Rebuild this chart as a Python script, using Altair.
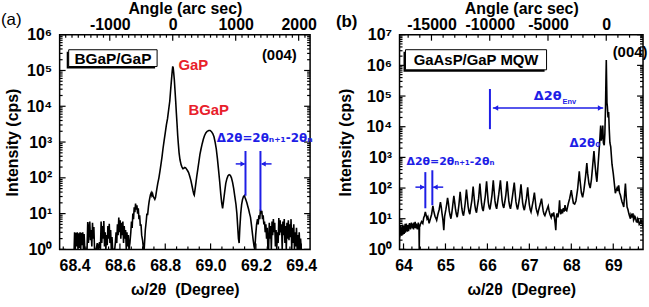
import altair as alt
import pandas as pd

FONT = "Liberation Sans"
GREEK = "DejaVu Sans"
RED = "#e8202a"
BLUE = "#1e1ee6"
MAJ, MIN = 6, 3  # tick lengths (px), drawn inward

# ---------------- (a) BGaP/GaP, (004) omega/2theta scan ----------------
a_deg = [
    68.398, 68.400, 68.403, 68.406, 68.409, 68.412, 68.415, 68.418, 68.421, 68.424,
    68.427, 68.430, 68.433, 68.436, 68.439, 68.442, 68.445, 68.450, 68.455, 68.458,
    68.461, 68.464, 68.467, 68.470, 68.473, 68.476, 68.479, 68.482, 68.485, 68.488,
    68.495, 68.500, 68.505, 68.510, 68.514, 68.517, 68.520, 68.523, 68.526, 68.529,
    68.532, 68.535, 68.538, 68.541, 68.544, 68.547, 68.550, 68.553, 68.556, 68.559,
    68.562, 68.565, 68.568, 68.572, 68.577, 68.580, 68.583, 68.586, 68.589, 68.592,
    68.595, 68.598, 68.601, 68.604, 68.607, 68.610, 68.613, 68.616, 68.619, 68.622,
    68.625, 68.628, 68.631, 68.634, 68.637, 68.640, 68.644, 68.648, 68.651, 68.654,
    68.657, 68.660, 68.663, 68.666, 68.669, 68.672, 68.675, 68.678, 68.681, 68.684,
    68.687, 68.690, 68.693, 68.696, 68.700, 68.704, 68.707, 68.712, 68.716, 68.719,
    68.722, 68.726, 68.729, 68.732, 68.735, 68.738, 68.741, 68.744, 68.747, 68.750,
    68.754, 68.757, 68.762, 68.767, 68.772, 68.777, 68.782, 68.786, 68.790, 68.795,
    68.800, 68.805, 68.810, 68.815, 68.820, 68.824, 68.828, 68.831, 68.833, 68.835,
    68.837, 68.840, 68.843, 68.846, 68.849, 68.852, 68.855, 68.858, 68.861, 68.865,
    68.870, 68.874, 68.878, 68.882, 68.886, 68.890, 68.894, 68.898, 68.903, 68.908,
    68.913, 68.918, 68.922, 68.926, 68.928, 68.931, 68.935, 68.939, 68.944, 68.949,
    68.953, 68.958, 68.963, 68.968, 68.973, 68.979, 68.985, 68.992, 68.998, 69.004,
    69.010, 69.015, 69.020, 69.025, 69.030, 69.035, 69.040, 69.045, 69.049, 69.053,
    69.057, 69.062, 69.067, 69.072, 69.077, 69.082, 69.087, 69.092, 69.097, 69.102,
    69.107, 69.112, 69.116, 69.120, 69.123, 69.126, 69.129, 69.133, 69.137, 69.141,
    69.145, 69.149, 69.152, 69.156, 69.160, 69.164, 69.168, 69.172, 69.176, 69.180,
    69.184, 69.188, 69.192, 69.195, 69.199, 69.203, 69.207, 69.210, 69.213, 69.217,
    69.220, 69.223, 69.226, 69.229, 69.232, 69.235, 69.238, 69.241, 69.244, 69.247,
    69.250, 69.253, 69.256, 69.259, 69.262, 69.265, 69.268, 69.271, 69.274, 69.277,
    69.280, 69.283, 69.286, 69.289, 69.292, 69.295, 69.298, 69.301, 69.304, 69.307,
    69.310, 69.313, 69.316, 69.319, 69.322, 69.325, 69.328, 69.331, 69.334, 69.337,
    69.340, 69.343, 69.346, 69.349, 69.352, 69.355, 69.358, 69.361, 69.364, 69.367,
    69.370, 69.373, 69.376, 69.379, 69.382, 69.385, 69.388, 69.391, 69.394, 69.397,
    69.400,
]
a_cps = [
    1.0, 3.0, 1.0, 2.9, 1.2, 3.0, 1.0, 2.8, 1.1, 3.0,
    1.0, 2.9, 1.3, 3.0, 1.0, 2.7, 1.0, 1.0, 1.0, 5.8,
    1.5, 4.0, 6.0, 1.8, 3.5, 1.2, 5.5, 2.0, 4.2, 1.0,
    1.0, 1.5, 1.0, 1.6, 1.0, 6.0, 1.5, 4.5, 2.0, 6.2,
    1.2, 3.0, 1.0, 2.5, 1.3, 4.5, 2.0, 5.2, 1.5, 3.5,
    1.0, 2.2, 1.0, 1.0, 1.0, 1.6, 3.0, 1.5, 5.0, 2.5,
    7.8, 3.0, 6.5, 2.0, 5.5, 2.5, 6.0, 1.5, 4.5, 2.0,
    3.5, 1.0, 3.0, 1.2, 2.5, 1.0, 1.5, 3.0, 6.0, 4.0,
    10, 7, 15, 11, 19, 13, 17, 10, 14, 7,
    9, 4.5, 5, 2.5, 1.8, 1.0, 1.0, 3.5, 6, 10,
    9, 16, 22, 28, 34, 38, 32, 36, 30, 28,
    25, 28, 45, 70, 100, 160, 260, 400, 650, 1100,
    1800, 3000, 4500, 8000, 14000, 30000, 60000, 100000, 130000, 120000,
    90000, 55000, 28000, 14000, 6500, 3200, 1500, 850, 500, 320,
    230, 200, 180, 185, 195, 190, 175, 160, 140, 110,
    85, 60, 45, 35, 33, 45, 70, 110, 180, 300,
    450, 650, 900, 1200, 1500, 1800, 2000, 2100, 2100, 1950,
    1700, 1400, 1000, 650, 350, 170, 80, 35, 20, 14,
    22, 40, 70, 95, 115, 122, 118, 100, 75, 50,
    30, 18, 10, 4, 2, 1.5, 4, 10, 18, 25,
    30, 32, 28, 24, 20, 16, 13, 10, 8, 5,
    3, 1.8, 1.2, 1.0, 2.5, 5, 7, 5, 9, 7,
    13, 10, 12, 7, 9, 5, 6, 3, 5, 2,
    4, 1, 1.0, 5.5, 2.0, 4.5, 1.0, 6.0, 2.5, 7.0,
    3.0, 5.5, 1.2, 3.5, 1.0, 3.0, 1.5, 7.5, 2.5, 6.5,
    3.0, 5.0, 1.0, 6.0, 2.5, 7.0, 1.5, 4.5, 1.0, 5.5,
    2.0, 6.5, 1.8, 5.0, 2.2, 7.0, 1.0, 4.0, 1.5, 5.0,
    1.0, 3.0, 1.2, 4.0, 1.0, 2.5, 1.0, 3.0, 1.0, 2.0,
    1.0,
]

# ---------------- (b) GaAsP/GaP MQW, (004) omega/2theta scan ----------------
b_deg = [
    63.900, 63.905, 63.912, 63.918, 63.925, 63.932, 63.940, 63.947, 63.955, 63.962,
    63.970, 63.978, 63.985, 63.993, 64.000, 64.008, 64.015, 64.023, 64.030, 64.038,
    64.045, 64.053, 64.060, 64.068, 64.075, 64.083, 64.090, 64.098, 64.105, 64.113,
    64.120, 64.128, 64.135, 64.143, 64.150, 64.158, 64.165, 64.173, 64.180, 64.188,
    64.195, 64.203, 64.210, 64.218, 64.225, 64.233, 64.240, 64.248, 64.255, 64.263,
    64.270, 64.278, 64.285, 64.293, 64.300, 64.308, 64.315, 64.323, 64.330, 64.338,
    64.345, 64.353, 64.360, 64.368, 64.375, 64.382, 64.390, 64.400, 64.430, 64.460,
    64.480, 64.500, 64.520, 64.540, 64.560, 64.580, 64.610, 64.640, 64.670, 64.700,
    64.720, 64.750, 64.770, 64.790, 64.820, 64.850, 64.880, 64.900, 64.920, 64.940,
    64.960, 64.980, 65.010, 65.030, 65.050, 65.070, 65.090, 65.110, 65.130, 65.150,
    65.170, 65.200, 65.220, 65.240, 65.260, 65.280, 65.300, 65.320, 65.350, 65.370,
    65.390, 65.410, 65.430, 65.450, 65.470, 65.500, 65.520, 65.540, 65.560, 65.580,
    65.600, 65.630, 65.660, 65.680, 65.700, 65.720, 65.740, 65.760, 65.790, 65.820,
    65.840, 65.860, 65.880, 65.900, 65.920, 65.950, 65.980, 66.000, 66.020, 66.040,
    66.060, 66.080, 66.110, 66.140, 66.160, 66.180, 66.200, 66.220, 66.240, 66.270,
    66.310, 66.330, 66.350, 66.370, 66.390, 66.410, 66.440, 66.470, 66.490, 66.510,
    66.530, 66.550, 66.570, 66.600, 66.640, 66.660, 66.680, 66.700, 66.720, 66.740,
    66.770, 66.800, 66.820, 66.840, 66.860, 66.880, 66.900, 66.930, 66.960, 66.980,
    67.000, 67.020, 67.040, 67.060, 67.090, 67.120, 67.140, 67.160, 67.180, 67.200,
    67.220, 67.260, 67.290, 67.310, 67.330, 67.350, 67.370, 67.400, 67.430, 67.450,
    67.470, 67.490, 67.520, 67.540, 67.560, 67.580, 67.600, 67.615, 67.630, 67.645,
    67.660, 67.680, 67.700, 67.720, 67.735, 67.750, 67.770, 67.790, 67.810, 67.830,
    67.850, 67.870, 67.890, 67.910, 67.930, 67.960, 68.000, 68.020, 68.050, 68.080,
    68.110, 68.150, 68.190, 68.210, 68.240, 68.270, 68.300, 68.340, 68.370, 68.390,
    68.420, 68.450, 68.480, 68.510, 68.540, 68.560, 68.590, 68.610, 68.630, 68.660,
    68.685, 68.700, 68.715, 68.730, 68.750, 68.765, 68.785, 68.800, 68.815, 68.825,
    68.834, 68.842, 68.850, 68.860, 68.875, 68.890, 68.905, 68.920, 68.940, 68.970,
    69.000, 69.050, 69.070, 69.090, 69.110, 69.130, 69.150, 69.170, 69.190, 69.210,
    69.230, 69.250, 69.270, 69.290, 69.310, 69.330, 69.350, 69.370, 69.390, 69.410,
    69.425, 69.440, 69.455, 69.470, 69.485, 69.500, 69.515, 69.530, 69.550, 69.570,
    69.585, 69.600, 69.620, 69.640, 69.660, 69.680, 69.700, 69.710,
]
b_cps = [
    1.2, 4.0, 2.5, 5.5, 3.0, 6.0, 3.5, 5.0, 2.8, 4.5,
    3.5, 6.5, 3.0, 5.0, 3.8, 6.0, 3.2, 5.5, 4.0, 6.8,
    3.5, 5.2, 4.2, 7.0, 4.0, 5.8, 3.8, 6.2, 4.5, 5.5,
    3.9, 6.5, 4.8, 7.2, 5.0, 6.0, 4.5, 6.8, 5.2, 7.5,
    5.5, 6.5, 4.8, 7.0, 5.0, 6.2, 4.5, 7.5, 5.5, 6.8,
    5.0, 8.0, 5.5, 6.5, 4.8, 7.0, 5.2, 6.0, 4.5, 6.5,
    5.0, 7.5, 5.5, 6.0, 1.0, 6.5, 5.5, 6.5, 8.0, 7.0,
    10.5, 12.5, 16.6, 13, 10, 11.5, 7.1, 10, 14, 26,
    18, 12, 10.5, 8.9, 14, 20, 35, 24, 14, 9,
    4.2, 12, 20, 30, 48, 32, 18, 13, 10, 15,
    25, 56, 34, 20, 14, 11.2, 17, 28, 76, 40,
    22, 15, 12.6, 19, 32, 89, 48, 25, 17, 14,
    22, 40, 112, 55, 28, 19, 15.8, 25, 45, 141,
    65, 32, 21, 17.8, 28, 55, 166, 75, 35, 24,
    20, 30, 60, 178, 80, 38, 26, 21, 32, 62,
    178, 80, 40, 27, 22.4, 32, 60, 166, 78, 38,
    26, 21, 30, 58, 151, 72, 36, 25, 20, 29,
    52, 132, 65, 33, 23, 19, 27, 45, 105, 52,
    28, 20, 16.6, 23, 38, 71, 40, 22, 17, 14,
    19, 30, 45, 28, 18, 14, 12.6, 17, 22, 26,
    18, 14, 11, 15, 12, 16, 10, 7, 4.2, 12,
    15, 11, 16, 40, 18, 14, 20, 15, 22, 17,
    28, 19, 18, 24, 32, 45, 85, 55, 32, 30,
    38, 90, 350, 170, 70, 50, 85, 240, 650, 300,
    140, 100, 190, 550, 1600, 700, 260, 160, 400, 1500,
    5000, 11000, 3500, 5000, 11000, 3000, 2500, 6000, 40000, 300000,
    1500000, 300000, 60000, 45000, 20000, 30000, 8000, 3000, 2200, 600,
    300, 68, 85, 100, 80, 123, 70, 59, 45, 35,
    30, 24, 60, 141, 50, 24, 20, 15, 12, 10,
    14, 13, 11, 15, 9, 10, 12, 11, 8, 7.8,
    10, 9, 6.5, 7, 9, 8, 6, 5.5,
]

# Axis ticks
a_x_major = [68.4, 68.6, 68.8, 69.0, 69.2, 69.4]
a_x_minor = [68.35, 68.45, 68.5, 68.55, 68.65, 68.7, 68.75, 68.85, 68.9, 68.95,
             69.05, 69.1, 69.15, 69.25, 69.3, 69.35]
b_x_major = [64, 65, 66, 67, 68, 69]
b_x_minor = [64.2, 64.4, 64.6, 64.8, 65.2, 65.4, 65.6, 65.8, 66.2, 66.4, 66.6, 66.8,
             67.2, 67.4, 67.6, 67.8, 68.2, 68.4, 68.6, 68.8, 69.2, 69.4, 69.6]
a_arcsec_major = [-1000, 0, 1000, 2000]
b_arcsec_major = [-15000, -10000, -5000, 0]
ZERO = 68.833  # 2theta at 0 arc sec (substrate peak)

SUPS = ["\u2070", "\u00b9", "\u00b2", "\u00b3", "\u2074", "\u2075", "\u2076", "\u2077"]
SUP_EXPR = "'10' + (" + " : ".join(
    f"datum.value < {10 ** k * 3} ? '{s}'" for k, s in enumerate(SUPS[:-1])
) + f" : '{SUPS[-1]}')"
TOP_EXPR = f"'' + round((datum.value - {ZERO}) * 3600)"


def to_deg(arcsec_list):
    return [ZERO + s / 3600.0 for s in arcsec_list]


class Panel:
    def __init__(self, sx, sy, W, H, y_axis):
        self.sx, self.sy, self.W, self.H, self.ya = sx, sy, W, H, y_axis

    def X(self, f):
        return alt.X(f, type="quantitative", scale=self.sx, axis=None)

    def Y(self, f):
        # every layer carries the same y axis definition so the shared axis merges cleanly
        return alt.Y(f, type="quantitative", scale=self.sy, axis=self.ya)

    def ticks(self, vals, side, length):
        m = alt.Chart(pd.DataFrame({"v": vals})).mark_rule(color="black", strokeWidth=1.2)
        W, H = self.W, self.H
        if side in ("bottom", "top"):
            y0, y1 = (H, H - length) if side == "bottom" else (0, length)
            return m.encode(x=self.X("v"), x2="v:Q", y=alt.value(y0), y2=alt.value(y1))
        x0, x1 = (0, length) if side == "left" else (W, W - length)
        return m.encode(y=self.Y("v"), y2="v:Q", x=alt.value(x0), x2=alt.value(x1))

    def text(self, x, y, s, size, color="black", font=FONT, weight="bold",
             align="left", baseline="alphabetic"):
        df = pd.DataFrame({"x": [x], "y": [y], "t": [s]})
        return alt.Chart(df).mark_text(font=font, fontSize=size, fontWeight=weight, color=color,
                                       align=align, baseline=baseline).encode(
            x=self.X("x"), y=self.Y("y"), text="t:N")

    def box(self, x1, x2, y1, y2):
        df = pd.DataFrame({"x1": [x1], "x2": [x2], "y1": [y1], "y2": [y2]})
        enc = dict(x=self.X("x1"), x2="x2:Q", y=self.Y("y1"), y2="y2:Q")
        shadow = alt.Chart(df).mark_rect(color="black", xOffset=-2, x2Offset=-2, yOffset=2,
                                         y2Offset=2).encode(**enc)
        face = alt.Chart(df).mark_rect(fill="white", stroke="black", strokeWidth=1).encode(**enc)
        return [shadow, face]

    def vlines(self, xs, y_top, y_bot):
        df = pd.DataFrame({"x": xs, "y": y_top, "yb": y_bot})
        return alt.Chart(df).mark_rule(color=BLUE, strokeWidth=2).encode(
            x=self.X("x"), x2="x:Q", y=self.Y("y"), y2="yb:Q")

    def hline(self, x1, x2, y):
        df = pd.DataFrame({"x": [x1], "xb": [x2], "y": [y]})
        return alt.Chart(df).mark_rule(color=BLUE, strokeWidth=1.5).encode(
            x=self.X("x"), x2="xb:Q", y=self.Y("y"), y2="y:Q")

    def head(self, x, y, shape):
        df = pd.DataFrame({"x": [x], "y": [y]})
        return alt.Chart(df).mark_point(shape=shape, filled=True, size=30, color=BLUE,
                                        opacity=1).encode(x=self.X("x"), y=self.Y("y"))


def text_px(px, py, s, size, weight):
    return alt.Chart(pd.DataFrame({"t": [s]})).mark_text(
        font=FONT, fontSize=size, fontWeight=weight, color="black", align="left", baseline="middle"
    ).encode(x=alt.value(px), y=alt.value(py), text="t:N")


def build(p, deg, cps, x_major, x_minor, x_fmt, arcsec_major, arcsec_minor, decades, extras):
    y_minor = [k * d for d in decades[:-1] for k in range(2, 10)]
    curve = alt.Chart(pd.DataFrame({"deg": deg, "cps": cps})).mark_line(
        color="black", strokeWidth=1.6, clip=True
    ).encode(
        x=alt.X("deg:Q", scale=p.sx, axis=alt.Axis(
            orient="bottom", values=x_major, format=x_fmt, title="\u03c9/2\u03b8\u00a0 (Degree)",
            ticks=False, domain=False, grid=False, labelPadding=8, titlePadding=8,
            labelFlush=False, labelOverlap=False)),
        y=p.Y("cps"),
    )
    top_major = to_deg(arcsec_major)
    top_axis = alt.Chart(pd.DataFrame({"v": top_major})).mark_rule(
        color="black", strokeWidth=1.2
    ).encode(
        x=alt.X("v:Q", scale=p.sx, axis=alt.Axis(
            orient="top", values=top_major, labelExpr=TOP_EXPR, title="Angle (arc sec)",
            ticks=False, domain=False, grid=False, labelPadding=2, titlePadding=0,
            labelFlush=False, labelOverlap=False)),
        x2="v:Q", y=alt.value(0), y2=alt.value(MAJ),
    )
    ticks = [
        p.ticks(x_major, "bottom", MAJ),
        p.ticks(x_minor, "bottom", MIN),
        p.ticks(to_deg(arcsec_minor), "top", MIN),
        p.ticks(decades, "left", MAJ),
        p.ticks(y_minor, "left", MIN),
        p.ticks(decades, "right", MAJ),
        p.ticks(y_minor, "right", MIN),
    ]
    return alt.layer(curve, top_axis, *ticks, *extras).resolve_axis(x="independent").properties(
        width=p.W, height=p.H)


def y_axis(decades, title_pad):
    return alt.Axis(orient="left", values=decades, labelExpr=SUP_EXPR, title="Intensity (cps)",
                    ticks=False, domain=False, grid=False, labelPadding=8,
                    titlePadding=title_pad, labelOverlap=False)


# ---------------- panel (a) ----------------
a_dec = [1, 10, 100, 1e3, 1e4, 1e5, 1e6]
pa = Panel(alt.Scale(domain=[68.334, 69.439], nice=False, zero=False),
           alt.Scale(type="log", domain=[1, 1e6], nice=False), 252, 216, y_axis(a_dec, 6))
a_arc_minor = [s for s in range(-1700, 2200, 100) if s % 1000 != 0]
a_extras = [
    *pa.box(68.374, 68.764, 1.29e5, 3.8e5),
    pa.text(68.569, 2.1e5, "BGaP/GaP", 15.5, align="center", baseline="middle"),
    pa.text(69.303, 2.75e5, "(004)", 15, align="center", baseline="middle"),
    pa.text(68.924, 1.38e5, "GaP", 15, color=RED, align="center", baseline="middle"),
    pa.text(68.992, 7760, "BGaP", 15, color=RED, align="center", baseline="middle"),
    pa.text(69.027, 1000, "\u03942\u03b8=2\u03b8\u2099\u208a\u2081-2\u03b8\u2099", 12,
            color=BLUE, font=GREEK),
    pa.vlines([69.154, 69.220], [562, 562], [31.6, 12]),
    pa.hline(69.111, 69.150, 245),
    pa.head(69.142, 245, "triangle-right"),
    pa.hline(69.226, 69.269, 245),
    pa.head(69.233, 245, "triangle-left"),
    text_px(-59, -15, "(a)", 17, "normal"),
]
panel_a = build(pa, a_deg, a_cps, a_x_major, a_x_minor, ".1f",
                a_arcsec_major, a_arc_minor, a_dec, a_extras)

# ---------------- panel (b) ----------------
b_dec = [1, 10, 100, 1e3, 1e4, 1e5, 1e6, 1e7]
pb = Panel(alt.Scale(domain=[63.905, 69.71], nice=False, zero=False),
           alt.Scale(type="log", domain=[1, 1e7], nice=False), 245, 216, y_axis(b_dec, 13))
b_arc_minor = [s for s in range(-17000, 4000, 1000) if s % 5000 != 0]
b_extras = [
    *pb.box(64.047, 67.41, 7.16e5, 3.24e6),
    pb.text(65.73, 1.51e6, "GaAsP/GaP MQW", 15, align="center", baseline="middle"),
    pb.text(69.40, 2.75e6, "(004)", 15, align="center", baseline="middle"),
    pb.vlines([66.06], [1.7e5], [8318]),
    pb.hline(66.13, 68.76, 40738),
    pb.head(66.20, 40738, "triangle-left"),
    pb.head(68.69, 40738, "triangle-right"),
    pb.text(67.104, 74131, "\u03942\u03b8", 13, color=BLUE, font=GREEK),
    pb.text(67.79, 54954, "Env", 7.5, color=BLUE),
    pb.text(67.957, 2180, "\u03942\u03b8\u2080", 12, color=BLUE, font=GREEK),
    pb.text(64.071, 560, "\u03942\u03b8=2\u03b8\u2099\u208a\u2081-2\u03b8\u2099", 11,
            color=BLUE, font=GREEK),
    pb.vlines([64.52, 64.687], [331, 380], [21.9, 27.5]),
    pb.hline(64.284, 64.498, 107),
    pb.head(64.45, 107, "triangle-right"),
    pb.hline(64.709, 64.946, 107),
    pb.head(64.758, 107, "triangle-left"),
    text_px(-64, -13, "(b)", 17, "bold"),
]
panel_b = build(pb, b_deg, b_cps, b_x_major, b_x_minor, "d",
                b_arcsec_major, b_arc_minor, b_dec, b_extras)

chart = alt.hconcat(panel_a, panel_b, spacing=90, bounds="flush").properties(
    padding={"left": 0, "top": -1, "right": 0, "bottom": 0}
).configure_view(stroke="black", strokeWidth=1.5).configure_axis(
    labelFont=FONT, labelFontSize=16, labelFontWeight="bold", labelColor="black",
    titleFont=FONT, titleFontSize=16, titleFontWeight="bold", titleColor="black",
)

chart.save("out.html", embed_options={"renderer": "svg", "actions": False})
